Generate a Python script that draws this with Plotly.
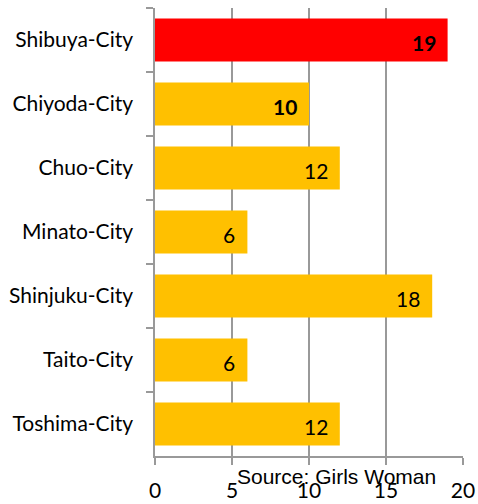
import plotly.graph_objects as go

categories = ["Shibuya-City", "Chiyoda-City", "Chuo-City", "Minato-City",
              "Shinjuku-City", "Taito-City", "Toshima-City"]
values = [19, 10, 12, 6, 18, 6, 12]
bold_flags = [True, True, False, False, False, False, False]
bar_colors = ["#FF0000", "#FFC000", "#FFC000", "#FFC000", "#FFC000", "#FFC000", "#FFC000"]
x_ticks = [0, 5, 10, 15, 20]
source_text = "Source: Girls Woman"

fig = go.Figure()
fig.add_trace(go.Bar(
    x=values, y=categories, orientation="h",
    marker=dict(color=bar_colors, line=dict(width=0)),
    width=0.67,
    hoverinfo="skip",
))

for c, v, b in zip(categories, values, bold_flags):
    fig.add_annotation(
        x=v, y=c, xref="x", yref="y",
        text=f"<b>{v}</b>" if b else str(v),
        showarrow=False, xanchor="right", xshift=-10, yshift=-2,
        font=dict(family="Lato", size=21, color="black"),
    )

fig.add_annotation(
    x=0.59, y=-0.015, xref="paper", yref="paper",
    text=source_text, showarrow=False, xanchor="center", yanchor="top",
    font=dict(family="Liberation Sans", size=21, color="black"),
)

fig.update_xaxes(
    range=[0, 20], tickvals=x_ticks, showgrid=True, gridcolor="#999999", gridwidth=1.5,
    showline=True, linecolor="#999999", linewidth=1.5,
    ticks="outside", ticklen=7, tickcolor="#999999", tickwidth=1.5,
    tickfont=dict(family="Lato", size=21, color="black"),
    ticklabelstandoff=8, zeroline=False, automargin=False,
)
fig.update_yaxes(
    categoryorder="array", categoryarray=categories, autorange="reversed",
    showline=True, linecolor="#999999", linewidth=1.5,
    ticks="outside", ticklen=7, tickcolor="#999999", tickwidth=1.5,
    tickson="boundaries", showgrid=False,
    tickfont=dict(family="Lato", size=21, color="black"),
    ticklabelstandoff=16, automargin=False,
)
fig.update_layout(
    width=478, height=504,
    margin=dict(l=155, r=15, t=8, b=48),
    plot_bgcolor="white", paper_bgcolor="white",
    showlegend=False, bargap=0.33,
)
fig.write_html(
    "out.html",
    config={"displayModeBar": False},
    post_script="document.body.style.margin='0px';document.body.style.overflow='hidden';",
)
